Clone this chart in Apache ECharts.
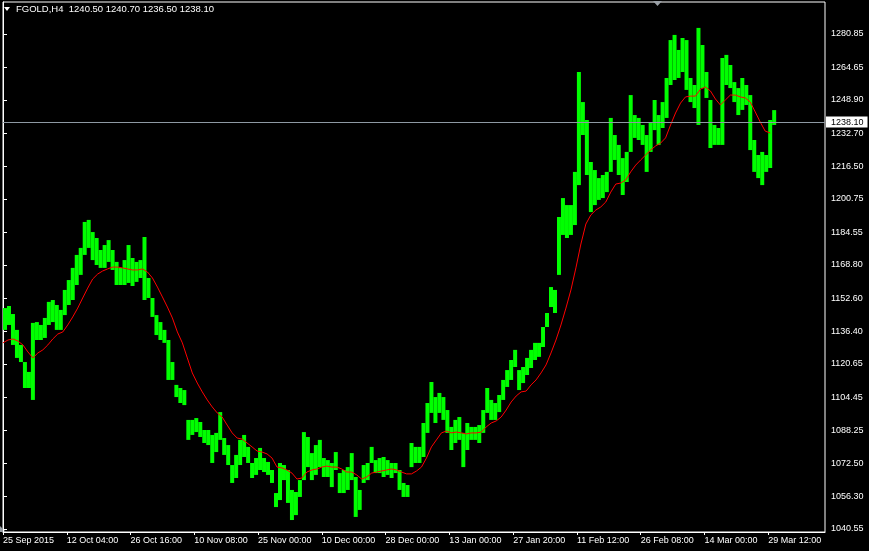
<!DOCTYPE html>
<html><head><meta charset="utf-8">
<script src="https://cdn.jsdelivr.net/npm/echarts@6/dist/echarts.min.js"></script>
<style>html,body{margin:0;padding:0;background:#000;}#c{width:869px;height:551px;}</style>
</head><body><div id="c"></div>
<script>
const headerText = 'FGOLD,H4  1240.50 1240.70 1236.50 1238.10';
const lastPrice = 1238.10;
const timeLabels = ['25 Sep 2015','12 Oct 04:00','26 Oct 16:00','10 Nov 08:00','25 Nov 00:00','10 Dec 00:00','28 Dec 00:00','13 Jan 00:00','27 Jan 20:00','11 Feb 12:00','26 Feb 08:00','14 Mar 00:00','29 Mar 12:00'];
const priceTicks = [1280.85,1264.65,1248.90,1232.70,1216.50,1200.75,1184.55,1168.80,1152.60,1136.40,1120.65,1104.45,1088.25,1072.50,1056.30,1040.55];
// H4 bars, grouped 4 bars per sample: high and low of each group
const barHigh = [
1147.8,1148.8,1144.9,1137.2,1129.9,1121.6,1116.8,1140.6,1141.0,1139.6,
1143.0,1150.8,1151.7,1149.3,1146.9,1156.6,1161.4,1167.3,1173.6,1177.0,
1189.6,1190.6,1184.7,1181.8,1176.0,1178.4,1180.8,1176.0,1170.2,1167.3,
1171.1,1178.4,1172.1,1170.2,1171.1,1182.3,1162.4,1152.7,1144.4,1141.0,
1137.2,1132.3,1121.6,1110.5,1109.0,1108.0,1093.5,1093.5,1094.4,1092.5,
1088.6,1088.6,1086.2,1087.2,1097.3,1084.7,1081.3,1071.6,1076.5,1083.8,
1086.2,1080.4,1072.6,1075.0,1079.9,1075.0,1073.1,1069.2,1058.0,1072.6,
1071.6,1069.2,1059.5,1058.5,1064.3,1087.6,1085.2,1077.4,1081.3,1083.8,
1075.0,1074.0,1072.6,1077.9,1067.7,1069.2,1070.6,1077.4,1065.8,1059.5,
1071.6,1072.6,1080.4,1074.0,1075.0,1075.5,1074.0,1072.6,1072.6,1069.2,
1062.9,1061.9,1082.3,1080.4,1080.4,1092.0,1101.7,1111.9,1104.6,1106.6,
1104.6,1098.3,1090.1,1093.5,1094.9,1087.2,1092.0,1090.1,1090.1,1091.0,
1098.3,1109.0,1103.2,1101.7,1105.6,1112.9,1117.7,1122.6,1127.5,1117.7,
1119.2,1123.6,1127.5,1130.9,1130.9,1138.6,1145.4,1158.0,1156.6,1192.0,
1201.2,1197.8,1197.8,1213.9,1262.4,1247.8,1239.1,1218.7,1214.8,1210.9,
1212.4,1213.9,1240.1,1231.8,1227.0,1220.6,1223.6,1251.2,1241.5,1240.1,
1236.7,1231.8,1238.1,1248.8,1241.5,1247.8,1259.5,1277.9,1280.4,1273.1,
1278.9,1277.9,1259.5,1256.1,1283.8,1275.5,1262.4,1248.8,1236.7,1235.2,
1269.2,1270.7,1265.8,1257.5,1254.6,1259.5,1256.1,1251.2,1229.4,1222.1,
1223.6,1222.1,1239.1,1243.9];
const barLow = [
1137.2,1139.6,1129.9,1123.6,1121.6,1109.0,1109.0,1103.2,1132.3,1132.3,
1133.3,1139.6,1141.0,1137.2,1137.2,1144.4,1149.3,1151.7,1159.0,1163.9,
1173.6,1177.0,1171.1,1168.7,1167.3,1167.3,1170.2,1166.3,1159.0,1159.0,
1159.0,1160.0,1158.5,1160.5,1162.4,1151.7,1152.7,1143.5,1134.7,1132.3,
1130.9,1112.9,1112.9,1104.6,1101.7,1100.7,1083.8,1086.2,1087.6,1085.2,
1082.3,1081.3,1072.6,1077.9,1083.8,1076.5,1071.6,1062.9,1065.3,1071.6,
1075.5,1072.6,1065.3,1066.8,1069.2,1068.2,1066.8,1062.9,1051.2,1054.6,
1064.3,1053.2,1044.9,1047.3,1056.1,1064.3,1070.6,1064.3,1066.8,1070.6,
1065.8,1065.8,1060.9,1069.2,1058.0,1058.0,1059.5,1064.3,1046.4,1049.8,
1062.9,1064.3,1072.6,1067.7,1067.7,1065.8,1066.8,1065.3,1067.7,1059.5,
1056.1,1056.1,1070.6,1072.6,1072.6,1075.5,1087.2,1096.9,1092.0,1096.9,
1093.5,1087.2,1078.9,1082.3,1083.8,1070.6,1078.9,1083.8,1083.8,1082.3,
1087.2,1096.9,1093.5,1093.5,1097.3,1103.2,1109.5,1112.9,1119.2,1108.0,
1111.4,1115.3,1118.7,1122.6,1124.1,1128.9,1138.6,1148.3,1145.4,1163.9,
1183.3,1181.8,1183.3,1188.1,1207.5,1231.8,1212.4,1194.4,1197.8,1200.3,
1201.2,1204.1,1213.9,1219.7,1212.4,1202.7,1209.0,1223.6,1230.4,1229.4,
1227.0,1213.9,1223.6,1234.2,1227.0,1235.2,1240.1,1256.1,1258.5,1259.5,
1262.4,1253.7,1247.8,1244.9,1236.7,1254.6,1249.8,1225.5,1227.0,1227.0,
1227.0,1256.1,1254.6,1247.8,1241.5,1244.0,1246.4,1224.5,1213.9,1210.9,
1207.5,1213.9,1215.8,1236.7];
// moving average, one value every 5 bars
const maValues = [
1130.9,1132.3,1132.8,1131.8,1129.9,1126.5,1123.6,1126.0,1127.5,1129.9,
1132.8,1135.2,1136.2,1139.6,1143.5,1147.8,1152.7,1157.5,1161.9,1164.3,
1165.8,1166.8,1167.7,1167.7,1167.3,1166.8,1166.3,1166.3,1166.8,1165.3,
1162.4,1158.0,1153.2,1148.3,1143.0,1136.2,1130.9,1123.6,1116.3,1111.4,
1107.1,1103.2,1099.8,1096.9,1094.9,1091.0,1087.2,1084.7,1084.2,1082.3,
1080.4,1078.4,1077.9,1077.0,1075.0,1070.6,1070.2,1069.2,1067.7,1064.8,
1065.3,1068.2,1069.2,1069.7,1070.6,1071.1,1070.6,1070.6,1069.7,1068.2,
1068.2,1066.8,1064.8,1065.8,1067.7,1068.2,1068.7,1069.2,1069.7,1069.2,
1068.2,1067.3,1067.3,1068.7,1070.6,1075.0,1080.4,1083.8,1087.2,1088.1,
1087.2,1087.6,1087.2,1086.7,1087.2,1087.2,1087.6,1090.1,1092.0,1093.0,
1094.9,1098.3,1102.2,1105.1,1107.1,1107.5,1110.5,1112.9,1116.3,1120.2,
1126.0,1132.3,1139.6,1147.8,1156.6,1167.3,1178.9,1188.6,1193.0,1195.4,
1196.9,1199.3,1204.1,1208.0,1208.5,1210.0,1213.9,1217.2,1219.7,1222.1,
1224.5,1226.5,1227.9,1230.4,1236.7,1242.5,1247.3,1250.3,1250.7,1250.7,
1254.1,1255.1,1253.2,1249.3,1246.4,1248.8,1251.2,1251.2,1250.3,1249.8,
1247.8,1243.0,1238.1,1233.7,1232.8];
const barsPerSample = 4;
const barsPerMaSample = 5;
const barsPerLabel = 64;

const font = 'Liberation Sans, Arial, sans-serif';
const chart = echarts.init(document.getElementById('c'), null, {renderer:'canvas'});
const barData = barHigh.map((h, i) => [i * barsPerSample + barsPerSample / 2, h, barLow[i]]);
const maData = maValues.map((v, j) => [j * barsPerMaSample, v]);

chart.setOption({
  animation: false,
  backgroundColor: '#000',
  title: {text: headerText, left: 16, top: 4, padding: 0, textStyle: {color: '#fff', fontSize: 9.5, fontWeight: 'normal', fontFamily: font}},
  graphic: [
    {type: 'polygon', shape: {points: [[4,7],[10,7],[7,11]]}, style: {fill: '#fff'}},
    {type: 'polygon', shape: {points: [[653,1],[662,1],[657.5,6]]}, style: {fill: '#9aa0a6'}},
    {type: 'polygon', shape: {points: [[0,526],[0,532],[6,532]]}, style: {fill: '#9aa0a6'}}
  ],
  grid: {left: 0, right: 44, top: 2, bottom: 19, show: true, borderColor: '#fff', borderWidth: 1, backgroundColor: 'transparent'},
  xAxis: {
    type: 'value', min: 0, max: 825, interval: barsPerLabel,
    axisLine: {show: true, lineStyle: {color: '#fff'}},
    axisTick: {show: true, length: 3, inside: false, lineStyle: {color: '#fff'}},
    splitLine: {show: false},
    axisLabel: {color: '#fff', fontSize: 9, fontFamily: font, align: 'left', margin: 4, showMaxLabel: false,
      formatter: v => timeLabels[Math.round(v / barsPerLabel)] || ''}
  },
  yAxis: {
    type: 'value', position: 'right', min: 1039.09, max: 1296.38,
    axisLine: {show: true, lineStyle: {color: '#fff'}},
    axisTick: {show: true, length: 4, lineStyle: {color: '#fff'}, customValues: priceTicks},
    splitLine: {show: false},
    axisLabel: {color: '#fff', fontSize: 9, fontFamily: font, margin: 6, customValues: priceTicks,
      formatter: v => v.toFixed(2)}
  },
  series: [
    {
      type: 'custom', name: 'FGOLD', data: barData, encode: {x: 0, y: [1, 2]},
      renderItem: function (params, api) {
        const x = api.value(0), hi = api.value(1), lo = api.value(2);
        const pHi = api.coord([x, hi]);
        const pLo = api.coord([x, lo]);
        const w = api.size([barsPerSample, 0])[0];
        return {type: 'rect', shape: {x: pHi[0] - w / 2, y: pHi[1], width: w, height: Math.max(1, pLo[1] - pHi[1])}, style: {fill: '#00ff00'}};
      },
      markLine: {
        silent: true, symbol: ['none', 'none'],
        lineStyle: {color: '#8e99a3', width: 1, type: 'solid'},
        label: {show: true, position: 'end', distance: 1, formatter: lastPrice.toFixed(2), color: '#000', backgroundColor: '#fff', fontSize: 9, fontFamily: font, padding: [1, 4, 1, 5]},
        data: [{yAxis: lastPrice}]
      }
    },
    {type: 'line', name: 'MA', data: maData, showSymbol: false, lineStyle: {color: '#ff0000', width: 1}, z: 3}
  ]
});
</script></body></html>
